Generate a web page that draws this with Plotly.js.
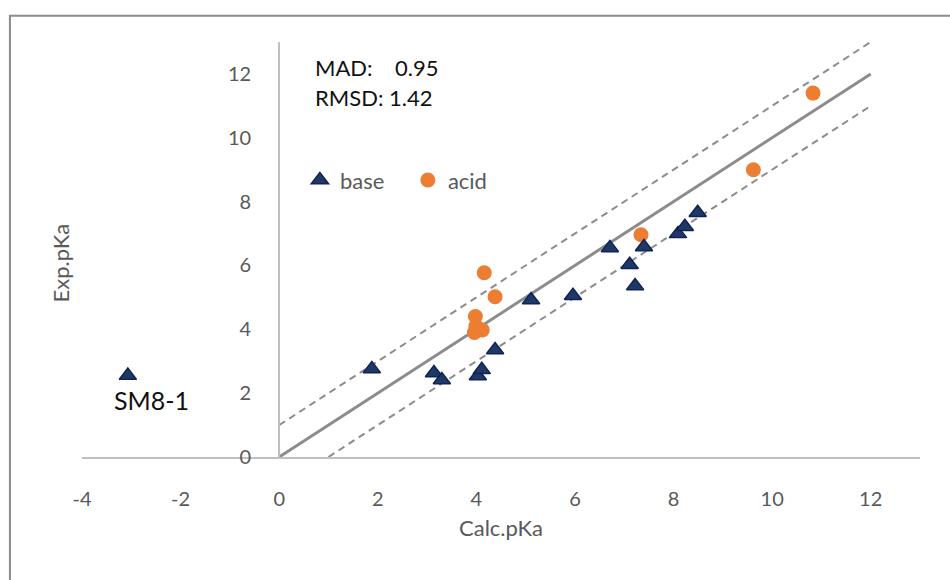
<!DOCTYPE html>
<html>
<head>
<meta charset="utf-8">
<script src="https://cdn.plot.ly/plotly-3.0.1.min.js"></script>
<style>html,body{margin:0;padding:0;background:#fff;}#chart{width:950px;height:580px;}</style>
</head>
<body>
<div id="chart"></div>
<script>
// Base compounds
const baseCalc = [-3.07, 1.88, 3.14, 3.30, 4.03, 4.11, 4.38, 5.11, 5.96, 6.71, 7.11, 7.22, 7.40, 8.09, 8.23, 8.49];
const baseExp  = [2.55, 2.76, 2.63, 2.41, 2.54, 2.73, 3.35, 4.92, 5.05, 6.55, 6.02, 5.36, 6.58, 6.99, 7.21, 7.65];
// Acid compounds
const acidCalc = [3.96, 3.98, 3.99, 4.12, 4.16, 4.38, 7.34, 9.62, 10.83];
const acidExp  = [3.90, 4.40, 4.10, 3.98, 5.77, 5.02, 6.96, 9.00, 11.40];
// Reference lines: y = x, y = x + 1, y = x - 1
const idealX = [0, 12], idealY = [0, 12];
const upperX = [0, 12], upperY = [1, 13];
const lowerX = [1, 12], lowerY = [0, 11];
// Ticks
const xTicks = [-4, -2, 0, 2, 4, 6, 8, 10, 12];
const xTickLabels = ['-4', '-2', '0', '2', '4', '6', '8', '10', '12'];
const yTicks = [0, 2, 4, 6, 8, 10, 12];
const yTickLabels = ['0', '2', '4', '6', '8', '10', '12'];
const statsText = ['MAD:    0.95', 'RMSD: 1.42'];
const outlierLabel = 'SM8-1';

const FONT = 'Lato, "Open Sans", sans-serif';
const GRAY = '#595959';

const traces = [
  {x: upperX, y: upperY, mode: 'lines', line: {color: '#8c8c8c', width: 2, dash: '7px,5px'}, showlegend: false, hoverinfo: 'skip'},
  {x: lowerX, y: lowerY, mode: 'lines', line: {color: '#8c8c8c', width: 2, dash: '7px,5px'}, showlegend: false, hoverinfo: 'skip'},
  {x: idealX, y: idealY, mode: 'lines', line: {color: '#8c8c8c', width: 3}, showlegend: false, hoverinfo: 'skip'},
  {x: acidCalc, y: acidExp, mode: 'markers', name: 'acid',
   marker: {symbol: 'circle', size: 15, color: '#ED7D31', line: {width: 0}}},
  {x: baseCalc, y: baseExp, mode: 'markers', name: 'base',
   marker: {symbol: 'triangle-up', size: 15, color: '#203864', line: {color: '#0f2356', width: 1.5}}}
];

const layout = {
  width: 950, height: 580,
  margin: {l: 82, r: 30, t: 42, b: 123},
  paper_bgcolor: '#fff', plot_bgcolor: '#fff',
  font: {family: FONT, color: GRAY, size: 20},
  showlegend: true,
  legend: {orientation: 'h', x: 0.26, y: 0.667, xanchor: 'left', yanchor: 'middle',
           traceorder: 'reversed', entrywidth: 63, entrywidthmode: 'pixels',
           font: {family: FONT, size: 22, color: GRAY}, bgcolor: 'rgba(0,0,0,0)'},
  xaxis: {range: [-4, 13], tickvals: xTicks, ticktext: xTickLabels, showgrid: false, zeroline: false,
          showline: true, linecolor: '#c0c0c0', linewidth: 2, ticks: '',
          ticklabelstandoff: 23, tickfont: {size: 20, color: GRAY},
          title: {text: 'Calc.pKa', font: {size: 22, color: GRAY}, standoff: 12}},
  yaxis: {range: [0, 13], tickvals: yTicks, ticktext: yTickLabels, showgrid: false, zeroline: false,
          anchor: 'free', position: 4 / 17, side: 'left',
          showline: true, linecolor: '#c0c0c0', linewidth: 2, ticks: '',
          ticklabelstandoff: 23, tickfont: {size: 20, color: GRAY}},
  shapes: [
    {type: 'rect', xref: 'paper', yref: 'paper', x0: -0.086, x1: 1.3, y0: -0.6, y1: 1.063,
     line: {color: '#8c8c8c', width: 2}, fillcolor: 'rgba(0,0,0,0)', layer: 'below'}
  ],
  annotations: [
    {x: 0.68, y: 12.2, xref: 'x', yref: 'y', text: statsText[0], showarrow: false, xanchor: 'left',
     font: {family: FONT, size: 22, color: '#111'}},
    {x: 0.68, y: 11.25, xref: 'x', yref: 'y', text: statsText[1], showarrow: false, xanchor: 'left',
     font: {family: FONT, size: 22, color: '#111'}},
    {x: -2.6, y: 1.79, xref: 'x', yref: 'y', text: outlierLabel, showarrow: false,
     font: {family: FONT, size: 25, color: '#111'}},
    {x: -0.026, y: 0.467, xref: 'paper', yref: 'paper', text: 'Exp.pKa', textangle: -90, showarrow: false,
     xanchor: 'center', yanchor: 'middle',
     font: {family: FONT, size: 22, color: GRAY}}
  ]
};

Plotly.newPlot('chart', traces, layout, {staticPlot: true, displayModeBar: false});
</script>
</body>
</html>
